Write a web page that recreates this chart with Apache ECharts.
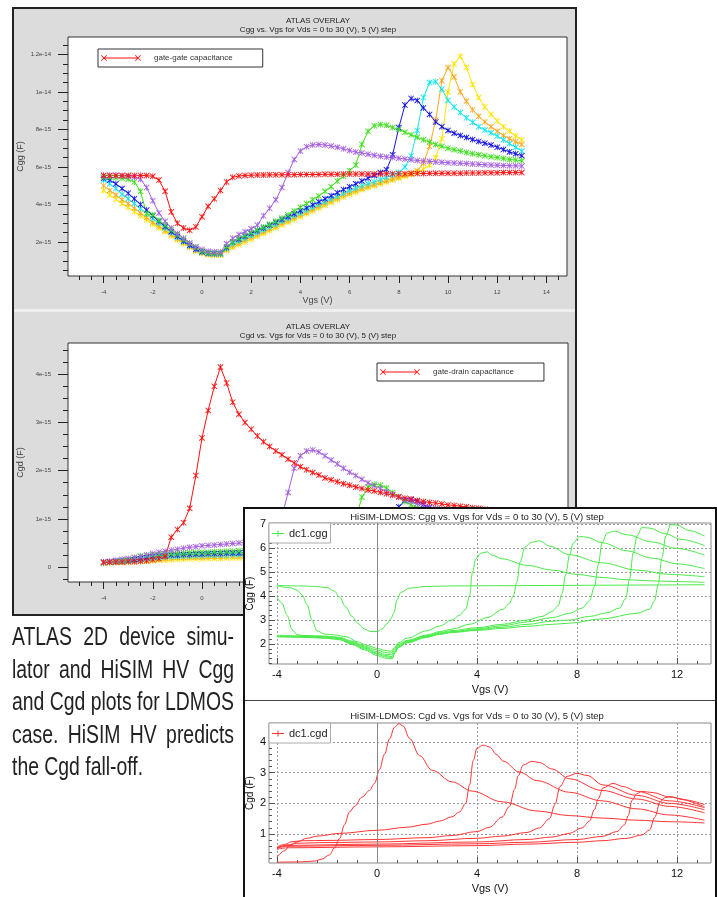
<!DOCTYPE html>
<html>
<head>
<meta charset="utf-8">
<script src="https://cdn.jsdelivr.net/npm/echarts@6/dist/echarts.min.js"></script>
<style>
  body { margin: 0; width: 717px; height: 897px; background: #fff; position: relative; overflow: hidden; font-family: "Liberation Sans", Arial, sans-serif; }
  #atlasPanel { position: absolute; left: 12px; top: 7px; width: 565px; height: 609px; box-sizing: border-box; border: 2px solid #222; background: #dcdcdc; }
  #atlasSep { position: absolute; left: 14px; top: 309px; width: 561px; height: 3px; background: #efefef; }
  #atlas { position: absolute; left: 0; top: 0; width: 717px; height: 897px; }
  #hisimPanel { position: absolute; left: 243px; top: 507px; width: 474px; height: 392px; box-sizing: border-box; border: 2px solid #111; background: #fff; overflow: hidden; }
  #hisim { position: absolute; left: -245px; top: -509px; width: 717px; height: 897px; }
  #hisimSep { position: absolute; left: 0; top: 191px; width: 100%; height: 1px; background: #444; }
  #caption { position: absolute; left: 12px; top: 620px; width: 222px; font-family: "Liberation Sans", Arial, sans-serif; font-size: 25px; line-height: 32.5px; color: #222; }
  #caption .ln { height: 32.5px; white-space: nowrap; }
  #caption .ln span { display: inline-block; transform-origin: 0 0; }
</style>
</head>
<body>
<div id="atlasPanel"></div>
<div id="atlasSep"></div>
<div id="atlas"></div>
<div id="caption">
  <div class="ln"><span>ATLAS 2D device simu-</span></div>
  <div class="ln"><span>lator and HiSIM HV Cgg</span></div>
  <div class="ln"><span>and Cgd plots for LDMOS</span></div>
  <div class="ln"><span>case. HiSIM HV predicts</span></div>
  <div class="ln"><span>the Cgd fall-off.</span></div>
</div>
<div id="hisimPanel">
  <div id="hisim"></div>
  <div id="hisimSep"></div>
</div>
<script>
// ---- ATLAS sweep (Vgs, V) and capacitances (fF) for Vds = 0..30 V ----
const vgsAtlas = [-4,-3.75,-3.5,-3.25,-3,-2.75,-2.5,-2.25,-2,-1.75,-1.5,-1.25,-1,-0.75,-0.5,-0.25,
  0,0.25,0.5,0.75,1,1.25,1.5,1.75,2,2.25,2.5,2.75,3,3.25,3.5,3.75,4,4.25,4.5,4.75,5,5.25,5.5,5.75,
  6,6.25,6.5,6.75,7,7.25,7.5,7.75,8,8.25,8.5,8.75,9,9.25,9.5,9.75,10,10.25,10.5,10.75,
  11,11.25,11.5,11.75,12,12.25,12.5,12.75,13];

const cggVds0 = [5.55,5.55,5.55,5.55, 5.55,5.55,5.55,5.54, 5.5,5.3,4.7,3.6, 3.0,2.75,2.62,2.8,
  3.35,3.9,4.3,4.75, 5.2,5.45,5.52,5.55, 5.56,5.57,5.57,5.58, 5.58,5.58,5.59,5.59, 5.6,5.6,5.6,5.6,
  5.61,5.61,5.61,5.62, 5.62,5.62,5.62,5.63, 5.63,5.63,5.64,5.64, 5.64,5.64,5.65,5.65, 5.65,5.66,5.66,5.66,
  5.67,5.67,5.67,5.68, 5.68,5.68,5.69,5.69, 5.69,5.7,5.7,5.7, 5.7];
const cggVds5 = [5.55,5.55,5.55,5.52, 5.5,5.45,5.35,4.9, 4.2,3.55,3.1,2.75, 2.45,2.2,1.95,1.75,
  1.6,1.5,1.47,1.47, 1.9,2.2,2.4,2.55, 2.7,2.9,3.4,3.8, 4.25,4.9,5.7,6.4, 6.85,7.08,7.17,7.2,
  7.17,7.12,7.05,6.97, 6.88,6.8,6.75,6.68, 6.62,6.57,6.53,6.5, 6.47,6.42,6.38,6.35, 6.32,6.3,6.27,6.25,
  6.23,6.21,6.2,6.18, 6.16,6.14,6.12,6.1, 6.09,6.08,6.07,6.06, 6.05];
const cggVds10 = [5.45,5.45,5.43,5.4, 5.35,5.2,4.7,3.5, 3.45,3.15,2.9,2.65, 2.4,2.15,1.92,1.72,
  1.52,1.43,1.4,1.4, 1.75,2.0,2.2,2.35, 2.5,2.65,2.8,2.95, 3.1,3.28,3.45,3.65, 3.85,4.05,4.25,4.45,
  4.7,4.95,5.25,5.5, 5.8,6.1,7.2,7.9, 8.2,8.27,8.22,8.1, 8.0,7.85,7.72,7.58, 7.45,7.33,7.2,7.1,
  7.0,6.92,6.85,6.77, 6.7,6.65,6.6,6.55, 6.5,6.45,6.4,6.37, 6.33];
const cggVds15 = [5.4,5.3,5.1,4.85, 4.6,4.3,4.0,3.7, 3.4,3.1,2.82,2.55, 2.3,2.05,1.82,1.62,
  1.48,1.4,1.38,1.38, 1.7,2.0,2.15,2.3, 2.45,2.6,2.75,2.9, 3.05,3.2,3.35,3.5, 3.67,3.82,3.98,4.14,
  4.3,4.47,4.63,4.8, 4.95,5.1,5.25,5.4, 5.55,5.7,5.85,6.65, 8.1,9.3,9.65,9.55, 9.15,8.8,8.4,8.15,
  7.95,7.8,7.68,7.57, 7.46,7.36,7.27,7.17, 7.05,6.93,6.8,6.7, 6.6];
const cggVds20 = [5.3,5.1,4.85,4.55, 4.3,4.05,3.78,3.52, 3.25,3.0,2.75,2.5, 2.25,2.02,1.8,1.6,
  1.45,1.38,1.36,1.36, 1.65,1.9,2.05,2.2, 2.35,2.5,2.65,2.8, 2.95,3.1,3.25,3.4, 3.55,3.7,3.85,4.0,
  4.15,4.3,4.45,4.6, 4.75,4.87,5.0,5.1, 5.2,5.32,5.45,5.57, 5.7,6.0,6.6,7.95, 9.7,10.5,10.55,10.15,
  9.55,9.2,8.9,8.62, 8.38,8.15,7.97,7.82, 7.65,7.45,7.25,7.05, 6.85];
const cggVds25 = [5.0,4.75,4.5,4.25, 4.05,3.8,3.55,3.3, 3.05,2.85,2.62,2.4, 2.18,1.98,1.75,1.55,
  1.42,1.35,1.33,1.33, 1.6,1.8,1.95,2.1, 2.25,2.4,2.55,2.7, 2.85,3.0,3.15,3.3, 3.45,3.6,3.75,3.9,
  4.05,4.2,4.35,4.5, 4.63,4.75,4.87,4.97, 5.07,5.17,5.27,5.37, 5.47,5.57,5.67,5.8, 6.2,7.1,8.5,10.6,
  11.3,10.8,10.0,9.5, 9.05,8.7,8.4,8.15, 7.9,7.68,7.5,7.35, 7.2];
const cggVds30 = [4.75,4.5,4.28,4.05, 3.85,3.62,3.4,3.18, 2.95,2.75,2.55,2.32, 2.12,1.92,1.72,1.52,
  1.4,1.32,1.3,1.3, 1.55,1.7,1.85,2.0, 2.15,2.3,2.45,2.6, 2.75,2.9,3.05,3.2, 3.35,3.5,3.65,3.8,
  3.95,4.1,4.25,4.4, 4.55,4.65,4.78,4.9, 5.0,5.1,5.2,5.3, 5.4,5.5,5.6,5.72, 5.88,6.1,6.5,7.5,
  10.0,11.5,11.9,11.3, 10.4,9.7,9.2,8.8, 8.45,8.15,7.9,7.65, 7.45];

const cgdVds0 = [0.1,0.1,0.1,0.1, 0.11,0.11,0.12,0.13, 0.15,0.17,0.22,0.62, 0.78,0.92,1.22,1.9,
  2.68,3.25,3.75,4.15, 3.82,3.42,3.17,3.0, 2.86,2.72,2.6,2.5, 2.41,2.33,2.24,2.16, 2.08,2.02,1.96,1.91,
  1.85,1.81,1.77,1.73, 1.7,1.66,1.63,1.6, 1.58,1.55,1.52,1.49, 1.46,1.43,1.41,1.38, 1.36,1.34,1.33,1.31,
  1.29,1.28,1.26,1.25, 1.23,1.22,1.2,1.19, 1.18,1.16,1.15,1.14, 1.13];
const cgdVds5 = [0.1,0.12,0.14,0.16, 0.18,0.2,0.22,0.25, 0.28,0.31,0.33,0.35, 0.37,0.39,0.41,0.42,
  0.44,0.45,0.46,0.47, 0.48,0.49,0.5,0.51, 0.52,0.54,0.56,0.6, 0.7,1.05,1.55,2.05, 2.31,2.41,2.43,2.39,
  2.31,2.22,2.14,2.05, 1.97,1.9,1.82,1.75, 1.69,1.63,1.57,1.51, 1.45,1.4,1.36,1.32, 1.28,1.25,1.22,1.19,
  1.17,1.15,1.13,1.11, 1.09,1.07,1.06,1.04, 1.03,1.02,1.01,1.0, 0.99];
const cgdVds10 = [0.1,0.11,0.12,0.13, 0.15,0.2,0.23,0.24, 0.25,0.26,0.27,0.28, 0.29,0.29,0.3,0.3,
  0.31,0.31,0.32,0.32, 0.33,0.33,0.34,0.34, 0.35,0.35,0.36,0.36, 0.36,0.37,0.37,0.38, 0.38,0.39,0.4,0.41,
  0.42,0.43,0.45,0.48, 0.55,1.0,1.45,1.66, 1.72,1.7,1.64,1.55, 1.46,1.36,1.29,1.23, 1.18,1.14,1.1,1.07,
  1.04,1.02,1.0,0.98, 0.97,0.96,0.95,0.94, 0.93,0.92,0.91,0.9, 0.9];
const cgdVds15 = [0.1,0.11,0.12,0.13, 0.14,0.15,0.17,0.2, 0.22,0.23,0.24,0.25, 0.25,0.26,0.26,0.27,
  0.27,0.28,0.28,0.28, 0.29,0.29,0.29,0.3, 0.3,0.3,0.31,0.31, 0.31,0.32,0.32,0.32, 0.33,0.33,0.33,0.34,
  0.34,0.35,0.35,0.36, 0.37,0.38,0.39,0.4, 0.42,0.45,0.55,0.9, 1.25,1.38,1.4,1.37, 1.3,1.24,1.18,1.13,
  1.09,1.05,1.02,0.99, 0.97,0.95,0.93,0.92, 0.9,0.89,0.88,0.87, 0.86];
const cgdVds20 = [0.09,0.1,0.11,0.12, 0.13,0.14,0.15,0.17, 0.19,0.2,0.21,0.22, 0.22,0.23,0.23,0.24,
  0.24,0.25,0.25,0.25, 0.25,0.26,0.26,0.26, 0.27,0.27,0.27,0.28, 0.28,0.28,0.29,0.29, 0.29,0.3,0.3,0.3,
  0.31,0.31,0.32,0.32, 0.33,0.33,0.34,0.35, 0.35,0.36,0.37,0.38, 0.4,0.42,0.46,0.6, 0.95,1.15,1.2,1.18,
  1.12,1.07,1.03,0.99, 0.96,0.93,0.91,0.89, 0.88,0.86,0.85,0.84, 0.83];
const cgdVds25 = [0.09,0.1,0.1,0.11, 0.12,0.13,0.14,0.15, 0.16,0.17,0.18,0.19, 0.2,0.2,0.21,0.21,
  0.21,0.22,0.22,0.22, 0.23,0.23,0.23,0.23, 0.24,0.24,0.24,0.25, 0.25,0.25,0.25,0.26, 0.26,0.26,0.27,0.27,
  0.27,0.28,0.28,0.28, 0.29,0.29,0.3,0.3, 0.31,0.31,0.32,0.33, 0.33,0.34,0.35,0.37, 0.39,0.42,0.5,0.75,
  0.98,1.07,1.06,1.02, 0.98,0.94,0.91,0.88, 0.86,0.84,0.82,0.81, 0.8];
const cgdVds30 = [0.08,0.09,0.1,0.1, 0.11,0.11,0.12,0.12, 0.13,0.14,0.14,0.15, 0.16,0.16,0.17,0.17,
  0.17,0.18,0.18,0.18, 0.19,0.19,0.19,0.2, 0.2,0.2,0.2,0.21, 0.21,0.21,0.21,0.22, 0.22,0.22,0.22,0.23,
  0.23,0.23,0.23,0.24, 0.24,0.24,0.25,0.25, 0.25,0.26,0.26,0.27, 0.27,0.28,0.28,0.29, 0.3,0.31,0.32,0.34,
  0.37,0.42,0.6,0.92, 1.0,0.98,0.94,0.9, 0.87,0.84,0.82,0.8, 0.78];

// ATLAS axis ticks
const atlasXMajor = [-4,-2,0,2,4,6,8,10,12,14];
const atlasXMinor = [-5,-4.5,-4,-3.5,-3,-2.5,-2,-1.5,-1,-0.5,0,0.5,1,1.5,2,2.5,3,3.5,4,4.5,5,5.5,6,6.5,
  7,7.5,8,8.5,9,9.5,10,10.5,11,11.5,12,12.5,13,13.5,14,14.5];
const cggTickValues = [2,4,6,8,10,12];
const cggTickLabels = ['2e-15','4e-15','6e-15','8e-15','1e-14','1.2e-14'];
const cggMinor = [0.5,1,1.5,2,2.5,3,3.5,4,4.5,5,5.5,6,6.5,7,7.5,8,8.5,9,9.5,10,10.5,11,11.5,12,12.5];
const cgdTickValues = [0,1,2,3,4];
const cgdTickLabels = ['0','1e-15','2e-15','3e-15','4e-15'];
const cgdMinor = [-0.25,0,0.25,0.5,0.75,1,1.25,1.5,1.75,2,2.25,2.5,2.75,3,3.25,3.5,3.75,4,4.25,4.5];

// ---- HiSIM HV curves [Vgs, C (fF)] for Vds = 0..30 V ----
const hisimCgg0 = [[-4,4.44],[-3,4.42],[-2.5,4.4],[-2,4.35],[-1.7,4.2],[-1.5,3.95],[-1.25,3.55],[-1,3.15],
  [-0.75,2.85],[-0.5,2.62],[-0.25,2.52],[0,2.52],[0.2,2.62],[0.4,2.85],[0.55,3.05],[0.68,3.3],[0.8,3.85],
  [0.95,4.15],[1.3,4.33],[2,4.4],[3,4.42],[5,4.43],[7,4.44],[9,4.45],[11,4.46],[13.1,4.47]];
const hisimCgg5 = [[-4,4.42],[-3.5,4.35],[-3.2,4.25],[-3,4.05],[-2.8,3.65],[-2.6,3.0],[-2.4,2.55],[-2.1,2.42],
  [-1.7,2.38],[-1.2,2.3],[-0.8,2.1],[-0.4,1.95],[0,1.82],[0.3,1.74],[0.55,1.7],[0.7,1.85],[0.85,2.05],
  [1.2,2.25],[2,2.55],[2.5,2.75],[3,3.0],[3.3,3.2],[3.55,3.45],[3.7,4.0],[3.82,5.0],[3.95,5.55],[4.15,5.78],
  [4.4,5.84],[4.6,5.7],[5,5.55],[6,5.28],[7,5.08],[8,4.9],[9,4.77],[10,4.68],[11,4.63],[12,4.6],[13.1,4.57]];
const hisimCgg10 = [[-4,3.98],[-3.8,3.7],[-3.6,3.2],[-3.4,2.6],[-3.2,2.4],[-3,2.36],[-2,2.33],[-1.5,2.28],
  [-1,2.12],[-0.5,1.92],[0,1.75],[0.3,1.66],[0.55,1.62],[0.7,1.8],[0.85,2.0],[1.2,2.15],[2,2.38],[2.5,2.52],
  [3,2.62],[3.72,2.83],[4.4,3.1],[5.04,3.45],[5.3,3.7],[5.45,4.0],[5.6,4.6],[5.72,5.4],[5.92,6.05],
  [6.2,6.24],[6.5,6.3],[6.9,6.08],[7.7,5.72],[9,5.38],[10.4,5.08],[11.7,4.9],[13.1,4.8]];
const hisimCgg15 = [[-4,2.36],[-3,2.34],[-2,2.3],[-1.5,2.25],[-1,2.08],[-0.5,1.88],[0,1.68],[0.3,1.58],
  [0.58,1.55],[0.7,1.75],[0.85,1.95],[1.2,2.12],[2,2.35],[2.5,2.48],[3,2.56],[4,2.68],[5,2.82],[6,3.0],
  [6.6,3.15],[7,3.35],[7.25,3.6],[7.4,4.1],[7.55,4.9],[7.7,5.7],[7.85,6.2],[8.1,6.48],[8.4,6.45],[9,6.22],
  [10,5.88],[11,5.58],[12,5.34],[13.1,5.14]];
const hisimCgg20 = [[-4,2.34],[-3,2.32],[-2,2.28],[-1.5,2.23],[-1,2.05],[-0.5,1.84],[0,1.62],[0.3,1.53],
  [0.6,1.48],[0.72,1.7],[0.85,1.92],[1.2,2.1],[2,2.32],[2.5,2.45],[3,2.52],[4,2.63],[5,2.76],[6,2.92],
  [7,3.1],[7.7,3.28],[8.2,3.5],[8.5,3.8],[8.7,4.4],[8.85,5.3],[9.0,6.2],[9.2,6.62],[9.5,6.7],[10,6.55],
  [11,6.25],[12,5.98],[13.1,5.7]];
const hisimCgg25 = [[-4,2.32],[-3,2.3],[-2,2.26],[-1.5,2.2],[-1,2.02],[-0.5,1.8],[0,1.58],[0.3,1.48],
  [0.6,1.43],[0.72,1.65],[0.85,1.88],[1.2,2.08],[2,2.3],[2.5,2.42],[3,2.5],[4,2.6],[5,2.7],[6,2.82],
  [7,2.95],[7.7,3.0],[8.5,3.15],[9.2,3.3],[9.7,3.5],[9.95,3.9],[10.1,4.7],[10.25,5.8],[10.4,6.5],
  [10.6,6.85],[10.9,6.83],[11.5,6.6],[12.2,6.35],[13.1,6.1]];
const hisimCgg30 = [[-4,2.3],[-3,2.28],[-2,2.24],[-1.5,2.18],[-1,1.98],[-0.5,1.76],[0,1.52],[0.3,1.42],
  [0.6,1.38],[0.72,1.62],[0.85,1.85],[1.2,2.05],[2,2.28],[2.5,2.4],[3,2.48],[4,2.57],[5,2.65],[6,2.74],
  [7,2.82],[7.7,2.87],[9,3.05],[10.4,3.28],[10.9,3.45],[11.1,3.8],[11.25,4.5],[11.4,5.6],[11.55,6.5],
  [11.75,6.98],[12.0,6.95],[12.5,6.72],[13.1,6.5]];

const hisimCgd0 = [[-4,0.08],[-3,0.09],[-2.5,0.12],[-2.2,0.18],[-1.9,0.32],[-1.7,0.55],[-1.5,0.85],
  [-1.3,1.3],[-1.1,1.72],[-0.9,1.9],[-0.6,2.2],[-0.3,2.42],[-0.1,2.65],[0.1,3.1],[0.3,3.6],[0.5,4.1],
  [0.7,4.48],[0.88,4.6],[1.05,4.52],[1.3,4.12],[1.7,3.56],[2.2,3.08],[3.0,2.7],[3.8,2.4],[5,2.05],
  [6.4,1.75],[7.7,1.6],[9,1.52],[10.4,1.45],[11.7,1.4],[13.1,1.36]];
const hisimCgd5 = [[-4,0.24],[-3.7,0.45],[-3.5,0.62],[-3.2,0.74],[-2.8,0.86],[-2.4,0.93],[-1.5,1.02],
  [0,1.12],[1.2,1.22],[2.0,1.32],[2.5,1.42],[3.0,1.56],[3.3,1.72],[3.55,2.0],[3.7,2.6],[3.85,3.4],
  [4.0,3.8],[4.24,3.9],[4.5,3.84],[4.8,3.58],[5.04,3.38],[5.7,3.02],[6.4,2.74],[7.7,2.36],[9,2.08],
  [10.4,1.82],[11.7,1.62],[13.1,1.45]];
const hisimCgd10 = [[-4,0.58],[-3.7,0.66],[-3.4,0.75],[-3,0.78],[-2,0.79],[0,0.82],[2,0.88],[3,0.95],
  [4,1.08],[4.5,1.22],[5.0,1.55],[5.3,1.9],[5.5,2.45],[5.65,2.9],[5.85,3.25],[6.2,3.37],[6.5,3.33],
  [7.0,3.12],[7.7,2.8],[9,2.42],[10.4,2.14],[11.7,1.9],[13.1,1.69]];
const hisimCgd15 = [[-4,0.52],[-3.6,0.64],[-3.2,0.7],[-2,0.72],[0,0.74],[2,0.78],[4,0.86],[5,0.93],
  [6,1.05],[6.5,1.2],[6.9,1.5],[7.12,1.96],[7.32,2.55],[7.6,2.88],[8.0,2.98],[8.4,2.91],[9.04,2.6],
  [10.4,2.26],[11.7,2.0],[13.1,1.79]];
const hisimCgd20 = [[-4,0.56],[-3.6,0.63],[0,0.67],[4,0.74],[6,0.82],[7,0.9],[7.7,1.02],[8.2,1.2],
  [8.5,1.42],[8.7,1.8],[8.85,2.15],[9.04,2.5],[9.44,2.65],[9.84,2.55],[10.4,2.39],[11.7,2.08],[13.1,1.86]];
const hisimCgd25 = [[-4,0.54],[-3.6,0.6],[0,0.63],[4,0.68],[6,0.73],[8,0.82],[9,0.92],[9.6,1.08],
  [9.9,1.3],[10.05,1.6],[10.2,2.1],[10.4,2.32],[10.6,2.39],[11.04,2.35],[11.72,2.2],[13.1,1.89]];
const hisimCgd30 = [[-4,0.5],[-3.6,0.55],[0,0.58],[4,0.62],[6,0.67],[8,0.73],[9,0.78],[10,0.86],
  [10.6,0.97],[10.9,1.13],[11.12,1.56],[11.32,2.04],[11.5,2.18],[11.72,2.22],[12.24,2.12],[13.1,1.96]];

// HiSIM axis ticks
const hisimXMajor = [-4,0,4,8,12];
const hisimXMinor = [-4,-3.2,-2.4,-1.6,-0.8,0,0.8,1.6,2.4,3.2,4,4.8,5.6,6.4,7.2,8,8.8,9.6,10.4,11.2,12,12.8];
const hisimCggMajor = [2,3,4,5,6,7];
const hisimCggMinor = [1.2,1.4,1.6,1.8,2,2.2,2.4,2.6,2.8,3,3.2,3.4,3.6,3.8,4,4.2,4.4,4.6,4.8,5,5.2,5.4,5.6,5.8,6,6.2,6.4,6.6,6.8,7];
const hisimCgdMajor = [1,2,3,4];
const hisimCgdMinor = [0.2,0.4,0.6,0.8,1,1.2,1.4,1.6,1.8,2,2.2,2.4,2.6,2.8,3,3.2,3.4,3.6,3.8,4,4.2,4.4,4.6];

// ---------------- caption: condensed, justified lines ----------------
(function () {
  const spans = Array.from(document.querySelectorAll('#caption .ln span'));
  const widths = spans.map(s => s.getBoundingClientRect().width);
  const k = Math.min.apply(null, widths.slice(0, 4).map(w => 222 / w));
  spans.forEach((s, i) => {
    if (i < 4) {
      const gaps = s.textContent.split(' ').length - 1;
      s.style.wordSpacing = ((222 / k - widths[i]) / gaps) + 'px';
    }
    s.style.transform = 'scaleX(' + k + ')';
  });
})();

// ---------------- ATLAS chart ----------------
const FONT = 'Liberation Sans';
const xMark = 'path://M0,1L1,0L10,9L9,10Z M9,0L10,1L1,10L0,9Z M4.4,0L5.6,0L5.6,10L4.4,10Z';
const legendIcon = 'path://M0,1.6L0.6,1L6,6.4L5.4,7Z M5.4,1L6,1.6L0.6,7L0,6.4Z M3,3.6L37,3.6L37,4.4L3,4.4Z ' +
  'M34,1.6L34.6,1L40,6.4L39.4,7Z M39.4,1L40,1.6L34.6,7L34,6.4Z';

const atlasCurves = [
  { vds: 30, color: '#ffe400', cgg: cggVds30, cgd: cgdVds30 },
  { vds: 25, color: '#ffa81e', cgg: cggVds25, cgd: cgdVds25 },
  { vds: 20, color: '#12e6f0', cgg: cggVds20, cgd: cgdVds20 },
  { vds: 15, color: '#1414e6', cgg: cggVds15, cgd: cgdVds15 },
  { vds: 10, color: '#3ee01c', cgg: cggVds10, cgd: cgdVds10 },
  { vds: 5, color: '#a45ee0', cgg: cggVds5, cgd: cgdVds5 },
  { vds: 0, color: '#ff1010', cgg: cggVds0, cgd: cgdVds0 }
];

function atlasSeries(name, color, values, g) {
  return {
    type: 'line', name: name, xAxisIndex: g * 2, yAxisIndex: g * 2,
    data: vgsAtlas.map((v, i) => [v, values[i]]),
    symbol: xMark, symbolSize: 6,
    lineStyle: { width: 1, color: color }, itemStyle: { color: color },
    emphasis: { disabled: true }
  };
}

function atlasXAxes(g, min, max, withName) {
  return [{
    type: 'value', gridIndex: g, min: min, max: max, position: 'bottom',
    axisLine: { show: false, onZero: false },
    axisTick: { length: 7, customValues: atlasXMajor, lineStyle: { color: '#222' } },
    axisLabel: { customValues: atlasXMajor, fontSize: 6, color: '#444', margin: 13, fontFamily: FONT },
    splitLine: { show: false },
    name: withName ? 'Vgs (V)' : '', nameLocation: 'middle', nameGap: 20, nameMoveOverlap: false,
    nameTextStyle: { fontSize: 9, color: '#444', fontFamily: FONT }
  }, {
    type: 'value', gridIndex: g, min: min, max: max, position: 'bottom',
    axisLine: { show: false, onZero: false },
    axisTick: { length: 4, customValues: atlasXMinor, lineStyle: { color: '#222' } },
    axisLabel: { show: false }, splitLine: { show: false }
  }];
}

function atlasYAxes(g, min, max, majors, labels, minors, name) {
  return [{
    type: 'value', gridIndex: g, min: min, max: max, position: 'left',
    axisLine: { show: false, onZero: false },
    axisTick: { length: 10, customValues: majors, lineStyle: { color: '#222' } },
    axisLabel: {
      customValues: majors, fontSize: 6, color: '#444', margin: 17, fontFamily: FONT,
      formatter: v => labels[majors.indexOf(v)]
    },
    splitLine: { show: false },
    name: name, nameLocation: 'middle', nameGap: 43, nameMoveOverlap: false,
    nameTextStyle: { fontSize: 9, color: '#444', fontFamily: FONT }
  }, {
    type: 'value', gridIndex: g, min: min, max: max, position: 'left',
    axisLine: { show: false, onZero: false },
    axisTick: { length: 5, customValues: minors, lineStyle: { color: '#222' } },
    axisLabel: { show: false }, splitLine: { show: false }
  }];
}

const atlasSeriesList = [];
atlasCurves.forEach(c => {
  atlasSeriesList.push(atlasSeries(c.vds === 0 ? 'gate-gate capacitance' : 'Cgg Vds=' + c.vds, c.color, c.cgg, 0));
  atlasSeriesList.push(atlasSeries(c.vds === 0 ? 'gate-drain capacitance' : 'Cgd Vds=' + c.vds, c.color, c.cgd, 1));
});

function atlasLegend(name, left, top) {
  return {
    data: [name], left: left, top: top, orient: 'horizontal',
    icon: legendIcon, itemWidth: 40, itemHeight: 6,
    backgroundColor: '#fff', borderColor: '#333', borderWidth: 1,
    padding: [5, 30, 5, 3], selectedMode: false,
    textStyle: { fontSize: 8, color: '#333', fontFamily: FONT, padding: [3, 0, 0, 8] }
  };
}

const atlasChart = echarts.init(document.getElementById('atlas'), null, { renderer: 'canvas' });
atlasChart.setOption({
  animation: false,
  title: [
    { text: 'ATLAS OVERLAY', subtext: 'Cgg vs. Vgs for Vds = 0 to 30 (V), 5 (V) step', left: 318, top: 17,
      textAlign: 'center', itemGap: 1, padding: 0,
      textStyle: { fontSize: 8, fontWeight: 'normal', color: '#222', fontFamily: FONT },
      subtextStyle: { fontSize: 8, color: '#222', fontFamily: FONT } },
    { text: 'ATLAS OVERLAY', subtext: 'Cgd vs. Vgs for Vds = 0 to 30 (V), 5 (V) step', left: 318, top: 323,
      textAlign: 'center', itemGap: 1, padding: 0,
      textStyle: { fontSize: 8, fontWeight: 'normal', color: '#222', fontFamily: FONT },
      subtextStyle: { fontSize: 8, color: '#222', fontFamily: FONT } }
  ],
  legend: [atlasLegend('gate-gate capacitance', 98, 49), atlasLegend('gate-drain capacitance', 377, 363)],
  grid: [
    { left: 68, top: 37, width: 499, height: 239, show: true, backgroundColor: '#fff', borderColor: '#333', borderWidth: 1 },
    { left: 68, top: 343, width: 500, height: 239, show: true, backgroundColor: '#fff', borderColor: '#333', borderWidth: 1 }
  ],
  xAxis: [].concat(atlasXAxes(0, -5.447, 14.837, true), atlasXAxes(1, -5.447, 14.878, true)),
  yAxis: [].concat(
    atlasYAxes(0, 0.187, 12.93, cggTickValues, cggTickLabels, cggMinor, 'Cgg (F)'),
    atlasYAxes(1, -0.31, 4.65, cgdTickValues, cgdTickLabels, cgdMinor, 'Cgd (F)')
  ),
  series: atlasSeriesList
});

// ---------------- HiSIM chart ----------------
const hisimGreen = '#48ea48';
const hisimRed = '#ff3434';
const hisimIcon = 'path://M0,3.5L12,3.5L12,4.5L0,4.5Z M5.5,1L6.5,1L6.5,7L5.5,7Z';

function hisimXAxes(g) {
  return [{
    type: 'value', gridIndex: g, min: -4.32, max: 13.36, position: 'bottom',
    axisLine: { show: false, onZero: false },
    axisTick: { inside: true, length: 6, customValues: hisimXMajor, lineStyle: { color: '#555' } },
    axisLabel: { customValues: hisimXMajor, fontSize: 11, color: '#111', margin: 5, fontFamily: FONT },
    splitLine: { show: true, lineStyle: { color: '#999', type: [2, 2], width: 1 } },
    name: 'Vgs (V)', nameLocation: 'middle', nameGap: 20, nameMoveOverlap: false,
    nameTextStyle: { fontSize: 11, color: '#111', fontFamily: FONT }
  }, {
    type: 'value', gridIndex: g, min: -4.32, max: 13.36, position: 'bottom',
    axisLine: { show: false, onZero: false },
    axisTick: { inside: true, length: 3, customValues: hisimXMinor, lineStyle: { color: '#555' } },
    axisLabel: { show: false }, splitLine: { show: false }
  }];
}

function hisimYAxes(g, min, max, majors, minors, name) {
  return [{
    type: 'value', gridIndex: g, min: min, max: max, position: 'left',
    axisLine: { show: false, onZero: false },
    axisTick: { inside: true, length: 6, customValues: majors, lineStyle: { color: '#555' } },
    axisLabel: { customValues: majors, fontSize: 11, color: '#111', margin: 3, fontFamily: FONT },
    splitLine: { show: true, lineStyle: { color: '#999', type: [2, 2], width: 1 } },
    name: name, nameLocation: 'middle', nameGap: 14, nameMoveOverlap: false,
    nameTextStyle: { fontSize: 10, color: '#111', fontFamily: FONT }
  }, {
    type: 'value', gridIndex: g, min: min, max: max, position: 'left',
    axisLine: { show: false, onZero: false },
    axisTick: { inside: true, length: 3, customValues: minors, lineStyle: { color: '#555' } },
    axisLabel: { show: false }, splitLine: { show: false }
  }];
}

function hisimSeries(name, color, data, g, withZeroLine) {
  const s = {
    type: 'line', name: name, xAxisIndex: g * 2, yAxisIndex: g * 2, data: data,
    showSymbol: false, smooth: 0.35, smoothMonotone: 'x',
    lineStyle: { width: 1, color: color }, itemStyle: { color: color },
    emphasis: { disabled: true }
  };
  if (withZeroLine) {
    s.markLine = { silent: true, symbol: 'none', label: { show: false },
      lineStyle: { color: '#888', type: 'solid', width: 1 }, data: [{ xAxis: 0 }] };
  }
  return s;
}

const hisimCggList = [hisimCgg0, hisimCgg5, hisimCgg10, hisimCgg15, hisimCgg20, hisimCgg25, hisimCgg30];
const hisimCgdList = [hisimCgd0, hisimCgd5, hisimCgd10, hisimCgd15, hisimCgd20, hisimCgd25, hisimCgd30];
const hisimSeriesList = [];
hisimCggList.forEach((d, i) => hisimSeriesList.push(hisimSeries('dc1.cgg', hisimGreen, d, 0, i === 0)));
hisimCgdList.forEach((d, i) => hisimSeriesList.push(hisimSeries('dc1.cgd', hisimRed, d, 1, i === 0)));

function hisimLegend(name, top) {
  return {
    data: [name], left: 269, top: top, icon: hisimIcon, itemWidth: 12, itemHeight: 7,
    backgroundColor: '#fff', borderColor: '#aaa', borderWidth: 1, borderRadius: 0,
    padding: [5, 3, 4, 3], selectedMode: false,
    textStyle: { fontSize: 11, color: '#222', fontFamily: FONT }
  };
}

const hisimChart = echarts.init(document.getElementById('hisim'), null, { renderer: 'canvas' });
hisimChart.setOption({
  animation: false,
  title: [
    { text: 'HiSIM-LDMOS: Cgg vs. Vgs for Vds = 0 to 30 (V), 5 (V) step', left: 477, top: 512, textAlign: 'center',
      padding: 0, textStyle: { fontSize: 9.5, fontWeight: 'normal', color: '#222', fontFamily: FONT } },
    { text: 'HiSIM-LDMOS: Cgd vs. Vgs for Vds = 0 to 30 (V), 5 (V) step', left: 477, top: 711, textAlign: 'center',
      padding: 0, textStyle: { fontSize: 9.5, fontWeight: 'normal', color: '#222', fontFamily: FONT } }
  ],
  legend: [hisimLegend('dc1.cgg', 523), hisimLegend('dc1.cgd', 723)],
  grid: [
    { left: 269, top: 523, width: 442, height: 141, show: true, backgroundColor: 'transparent', borderColor: '#888', borderWidth: 1 },
    { left: 269, top: 723, width: 442, height: 140, show: true, backgroundColor: 'transparent', borderColor: '#888', borderWidth: 1 }
  ],
  xAxis: [].concat(hisimXAxes(0), hisimXAxes(1)),
  yAxis: [].concat(
    hisimYAxes(0, 1.17, 7.04, hisimCggMajor, hisimCggMinor, 'Cgg (F)'),
    hisimYAxes(1, 0.054, 4.62, hisimCgdMajor, hisimCgdMinor, 'Cgd (F)')
  ),
  series: hisimSeriesList
});
</script>
</body>
</html>
